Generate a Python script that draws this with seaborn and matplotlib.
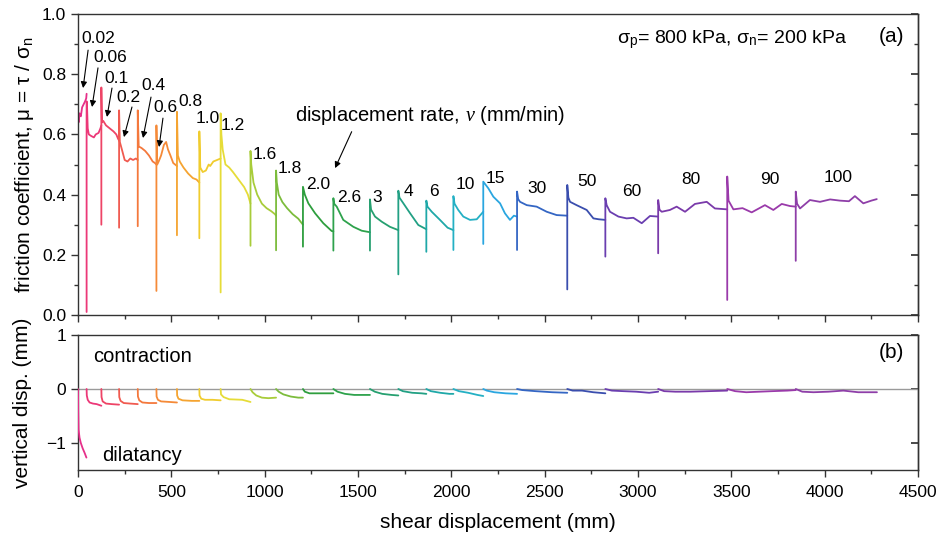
import numpy as np
import pandas as pd
import matplotlib
matplotlib.use('Agg')
import matplotlib.pyplot as plt
from matplotlib.ticker import MultipleLocator
import seaborn as sns

# displacement rates (mm/min) and their colours
rates = ['0.02', '0.06', '0.1', '0.2', '0.4', '0.6', '0.8', '1.0', '1.2', '1.6', '1.8', '2.0',
         '2.6', '3', '4', '6', '10', '15', '30', '50', '60', '80', '90', '100']
colors = ['#e6308a', '#ec3878', '#ee4466', '#f05a50', '#f4783c', '#f58a38', '#f5a431', '#f0cc2e',
          '#e6dc38', '#a8cc3a', '#7cbc3c', '#2e9e3e', '#2ea24c', '#26a070', '#22a084', '#1fa8a8',
          '#24b0c4', '#2aa6e0', '#3466c4', '#3a4eae', '#6a3eb0', '#7a3aaa', '#9a3aaa', '#8e3ea8']

# friction coefficient, one list per rate stage (shear displacement mm, mu)
mu_x = [
    [0, 0, 3, 8, 15, 22, 30, 38, 44, 46],
    [46, 46, 48, 52, 58, 70, 85, 95, 110, 120, 125],
    [125, 125, 128, 135, 150, 170, 190, 205, 215, 220],
    [220, 220, 224, 235, 250, 265, 280, 295, 310, 320],
    [320, 320, 325, 340, 360, 380, 400, 412, 420],
    [420, 420, 424, 432, 445, 460, 472, 482, 495, 510, 530],
    [530, 530, 535, 545, 565, 590, 615, 635, 650],
    [650, 650, 655, 668, 685, 700, 708, 725, 745, 764],
    [764, 764, 768, 775, 790, 810, 830, 860, 890, 910, 924],
    [924, 924, 928, 940, 960, 985, 1010, 1035, 1055, 1061],
    [1061, 1061, 1065, 1075, 1095, 1120, 1150, 1180, 1205],
    [1205, 1205, 1215, 1234, 1270, 1314, 1359, 1368],
    [1368, 1368, 1372, 1386, 1421, 1475, 1520, 1564],
    [1564, 1564, 1570, 1591, 1627, 1671, 1716],
    [1716, 1716, 1722, 1743, 1779, 1823, 1866],
    [1866, 1866, 1872, 1895, 1939, 1980, 2011],
    [2011, 2011, 2017, 2037, 2064, 2100, 2136, 2171],
    [2171, 2171, 2198, 2225, 2261, 2287, 2314, 2335, 2352],
    [2352, 2352, 2358, 2368, 2404, 2457, 2511, 2564, 2621],
    [2621, 2621, 2627, 2636, 2671, 2725, 2761, 2790, 2825],
    [2825, 2825, 2832, 2850, 2895, 2939, 2975, 3020, 3064, 3108],
    [3108, 3108, 3115, 3127, 3171, 3207, 3252, 3305, 3368, 3412, 3478],
    [3478, 3478, 3485, 3511, 3560, 3609, 3680, 3725, 3770, 3814, 3845],
    [3845, 3845, 3852, 3868, 3921, 3975, 4029, 4082, 4130, 4162, 4207, 4250, 4279],
]
mu_y = [
    [0.0, 0.68, 0.64, 0.67, 0.66, 0.69, 0.70, 0.71, 0.72, 0.735],
    [0.01, 0.71, 0.70, 0.62, 0.60, 0.595, 0.59, 0.60, 0.605, 0.62, 0.63],
    [0.30, 0.756, 0.64, 0.645, 0.63, 0.62, 0.61, 0.60, 0.585, 0.58],
    [0.29, 0.68, 0.575, 0.55, 0.515, 0.51, 0.52, 0.515, 0.52, 0.515],
    [0.295, 0.68, 0.56, 0.555, 0.545, 0.53, 0.51, 0.505, 0.50],
    [0.08, 0.63, 0.50, 0.51, 0.53, 0.565, 0.575, 0.55, 0.53, 0.505, 0.495],
    [0.265, 0.675, 0.53, 0.51, 0.49, 0.47, 0.455, 0.45, 0.44],
    [0.255, 0.61, 0.49, 0.475, 0.48, 0.50, 0.495, 0.51, 0.515, 0.52],
    [0.075, 0.67, 0.60, 0.55, 0.50, 0.49, 0.475, 0.45, 0.425, 0.40, 0.37],
    [0.23, 0.545, 0.50, 0.44, 0.40, 0.37, 0.355, 0.345, 0.335, 0.33],
    [0.215, 0.48, 0.44, 0.40, 0.375, 0.355, 0.335, 0.32, 0.30],
    [0.227, 0.426, 0.40, 0.371, 0.338, 0.305, 0.279, 0.278],
    [0.214, 0.388, 0.37, 0.36, 0.316, 0.293, 0.28, 0.275],
    [0.214, 0.384, 0.35, 0.327, 0.31, 0.293, 0.282],
    [0.135, 0.413, 0.39, 0.371, 0.338, 0.299, 0.285],
    [0.21, 0.38, 0.36, 0.343, 0.316, 0.29, 0.282],
    [0.216, 0.395, 0.37, 0.349, 0.327, 0.316, 0.318, 0.343],
    [0.236, 0.443, 0.421, 0.393, 0.371, 0.338, 0.316, 0.33, 0.327],
    [0.216, 0.41, 0.385, 0.376, 0.365, 0.36, 0.343, 0.332, 0.33],
    [0.085, 0.432, 0.39, 0.376, 0.365, 0.349, 0.321, 0.318, 0.316],
    [0.194, 0.388, 0.365, 0.343, 0.327, 0.321, 0.323, 0.305, 0.329, 0.327],
    [0.205, 0.382, 0.35, 0.343, 0.349, 0.36, 0.343, 0.369, 0.376, 0.354, 0.351],
    [0.05, 0.46, 0.38, 0.351, 0.355, 0.341, 0.365, 0.349, 0.369, 0.362, 0.36],
    [0.18, 0.41, 0.37, 0.354, 0.382, 0.376, 0.384, 0.38, 0.378, 0.395, 0.371, 0.38, 0.385],
]

# vertical displacement (mm), one list per rate stage
vd_x = [
    [0, 1, 3, 8, 15, 25, 35, 45],
    [46, 47, 52, 62, 80, 100, 125],
    [125, 126, 132, 150, 180, 220],
    [220, 221, 228, 245, 280, 320],
    [320, 321, 328, 345, 380, 420],
    [420, 421, 428, 445, 490, 530],
    [530, 531, 538, 560, 610, 650],
    [650, 651, 660, 680, 720, 764],
    [764, 766, 780, 810, 880, 924],
    [924, 935, 955, 985, 1020, 1061],
    [1061, 1075, 1100, 1140, 1180, 1205],
    [1205, 1215, 1240, 1280, 1330, 1368],
    [1368, 1390, 1430, 1480, 1530, 1564],
    [1564, 1590, 1630, 1680, 1716],
    [1716, 1740, 1790, 1840, 1866],
    [1866, 1890, 1940, 1990, 2011],
    [2011, 2040, 2090, 2140, 2171],
    [2171, 2190, 2230, 2290, 2352],
    [2352, 2380, 2450, 2540, 2621],
    [2621, 2650, 2700, 2760, 2825],
    [2825, 2860, 2920, 2990, 3060, 3108],
    [3108, 3140, 3200, 3280, 3380, 3478],
    [3478, 3520, 3580, 3650, 3720, 3800, 3845],
    [3845, 3880, 3940, 4020, 4100, 4180, 4280],
]
vd_y = [
    [0, -0.4, -0.75, -0.9, -1.0, -1.1, -1.18, -1.27],
    [0, -0.12, -0.2, -0.25, -0.27, -0.28, -0.31],
    [0, -0.15, -0.23, -0.27, -0.28, -0.29],
    [0, -0.15, -0.22, -0.26, -0.27, -0.28],
    [0, -0.14, -0.21, -0.25, -0.26, -0.26],
    [0, -0.14, -0.2, -0.23, -0.24, -0.25],
    [0, -0.12, -0.18, -0.21, -0.22, -0.22],
    [0, -0.12, -0.18, -0.2, -0.2, -0.21],
    [0, -0.1, -0.15, -0.19, -0.2, -0.24],
    [0, -0.06, -0.12, -0.16, -0.17, -0.16],
    [0, -0.05, -0.1, -0.14, -0.16, -0.16],
    [0, -0.05, -0.08, -0.08, -0.08, -0.08],
    [0, -0.05, -0.09, -0.11, -0.11, -0.11],
    [0, -0.05, -0.09, -0.11, -0.12],
    [0, -0.04, -0.07, -0.08, -0.09],
    [0, -0.04, -0.07, -0.09, -0.09],
    [0, -0.04, -0.07, -0.11, -0.13],
    [0, -0.03, -0.06, -0.08, -0.09],
    [0, -0.02, -0.04, -0.06, -0.07],
    [0, -0.03, -0.03, -0.06, -0.08],
    [0, -0.03, -0.04, -0.05, -0.07, -0.05],
    [0, -0.04, -0.05, -0.05, -0.04, -0.03],
    [0, -0.04, -0.06, -0.05, -0.04, -0.03, -0.02],
    [0, -0.05, -0.06, -0.05, -0.03, -0.06, -0.06],
]

# where the rate labels sit (mm, mu)
label_x = [110, 171, 204, 268, 402, 466, 600, 696, 830, 1002, 1136, 1286,
           1452, 1602, 1768, 1907, 2073, 2234, 2459, 2727, 2968, 3284, 3707, 4071]
label_y = [0.920, 0.854, 0.787, 0.721, 0.764, 0.688, 0.711, 0.654, 0.631, 0.532, 0.488, 0.432,
           0.389, 0.389, 0.409, 0.409, 0.432, 0.452, 0.419, 0.445, 0.409, 0.449, 0.449, 0.458]
# arrows for the first six labels: tail (x, y) -> head (x, y)
arrows = [((54, 0.880), (27, 0.754)),
          ((107, 0.821), (75, 0.691)),
          ((182, 0.754), (155, 0.658)),
          ((289, 0.691), (246, 0.591)),
          ((391, 0.724), (348, 0.588)),
          ((455, 0.654), (434, 0.558))]

df_mu = pd.concat([pd.DataFrame({'x': xs, 'mu': ys, 'rate': r})
                   for r, xs, ys in zip(rates, mu_x, mu_y)], ignore_index=True)
df_vd = pd.concat([pd.DataFrame({'x': xs, 'vd': ys, 'rate': r})
                   for r, xs, ys in zip(rates, vd_x, vd_y)], ignore_index=True)
pal = dict(zip(rates, colors))

sns.set_theme(style='ticks')
plt.rcParams['font.family'] = ['Liberation Sans', 'DejaVu Sans']
plt.rcParams['mathtext.fontset'] = 'custom'
plt.rcParams['mathtext.rm'] = 'Liberation Sans'
plt.rcParams['mathtext.it'] = 'Liberation Serif:italic'
plt.rcParams['axes.linewidth'] = 1.0
plt.rcParams['axes.edgecolor'] = '#333333'
plt.rcParams['text.color'] = 'black'
plt.rcParams['axes.labelcolor'] = 'black'
plt.rcParams['xtick.color'] = '#333333'
plt.rcParams['ytick.color'] = '#333333'
plt.rcParams['xtick.labelcolor'] = 'black'
plt.rcParams['ytick.labelcolor'] = 'black'

fig = plt.figure(figsize=(9.4, 5.33), dpi=100)
ax1 = fig.add_axes([0.083, 0.409, 0.8936, 0.5647])
ax2 = fig.add_axes([0.083, 0.1182, 0.8936, 0.2533])

# (a) friction coefficient
sns.lineplot(data=df_mu, x='x', y='mu', hue='rate', hue_order=rates, palette=pal,
             sort=False, estimator=None, legend=False, lw=1.3, ax=ax1)
ax1.set_xlim(0, 4500)
ax1.set_ylim(0, 1.0)
ax1.xaxis.set_major_locator(MultipleLocator(500))
ax1.xaxis.set_minor_locator(MultipleLocator(250))
ax1.yaxis.set_major_locator(MultipleLocator(0.2))
ax1.yaxis.set_minor_locator(MultipleLocator(0.1))
ax1.yaxis.set_major_formatter(matplotlib.ticker.FormatStrFormatter('%.1f'))
ax1.tick_params(axis='x', which='both', labelbottom=False)
ax1.tick_params(which='major', length=5, width=1, labelsize=12.5)
ax1.tick_params(which='minor', length=3, width=1)
ax1.set_xlabel('')
ax1.set_ylabel('friction coefficient, μ = τ / σ$_\\mathregular{n}$', fontsize=15, labelpad=4)
sec1 = ax1.secondary_yaxis('right')
sec1.yaxis.set_major_locator(MultipleLocator(0.2))
sec1.yaxis.set_minor_locator(MultipleLocator(0.1))
sec1.tick_params(which='both', direction='in', labelright=False)
sec1.tick_params(which='major', length=5)
sec1.tick_params(which='minor', length=3)

for r, lx, ly in zip(rates, label_x, label_y):
    ax1.text(lx, ly, r, fontsize=12.5, ha='center', va='center')
for (tail, head) in arrows:
    ax1.annotate('', xy=head, xytext=tail,
                 arrowprops=dict(arrowstyle='-|>', color='black', lw=0.8,
                                 mutation_scale=9, shrinkA=0, shrinkB=0))
ax1.text(1886, 0.664, 'displacement rate, $v$ (mm/min)', fontsize=14.5, ha='center', va='center')
ax1.annotate('', xy=(1377, 0.488), xytext=(1466, 0.609),
             arrowprops=dict(arrowstyle='-|>', color='black', lw=0.8,
                             mutation_scale=9, shrinkA=0, shrinkB=0))
ax1.text(0.779, 0.914, 'σ$_\\mathregular{p}$= 800 kPa, σ$_\\mathregular{n}$= 200 kPa',
         transform=ax1.transAxes, fontsize=14, ha='center', va='center')
ax1.text(0.968, 0.924, '(a)', transform=ax1.transAxes, fontsize=15, ha='center', va='center')

# (b) vertical displacement
ax2.axhline(0, color='#9a9a9a', lw=1.0, zorder=1)
sns.lineplot(data=df_vd, x='x', y='vd', hue='rate', hue_order=rates, palette=pal,
             sort=False, estimator=None, legend=False, lw=1.3, ax=ax2, zorder=3)
ax2.set_xlim(0, 4500)
ax2.set_ylim(-1.5, 1.0)
ax2.xaxis.set_major_locator(MultipleLocator(500))
ax2.xaxis.set_minor_locator(MultipleLocator(250))
ax2.set_yticks([-1, 0, 1])
ax2.tick_params(which='major', length=5, width=1, labelsize=12.5)
ax2.tick_params(axis='x', which='major', pad=6)
ax2.tick_params(which='minor', length=3, width=1)
ax2.set_xlabel('shear displacement (mm)', fontsize=15, labelpad=9)
ax2.set_ylabel('vertical disp. (mm)', fontsize=15, labelpad=10)
sec2 = ax2.secondary_yaxis('right')
sec2.set_yticks([-1, 0, 1])
sec2.tick_params(which='both', direction='in', labelright=False, length=5)
ax2.text(0.018, 0.844, 'contraction', transform=ax2.transAxes, fontsize=14.5, ha='left', va='center')
ax2.text(0.029, 0.104, 'dilatancy', transform=ax2.transAxes, fontsize=14.5, ha='left', va='center')
ax2.text(0.968, 0.874, '(b)', transform=ax2.transAxes, fontsize=15, ha='center', va='center')

fig.savefig('out.png', dpi=100)
